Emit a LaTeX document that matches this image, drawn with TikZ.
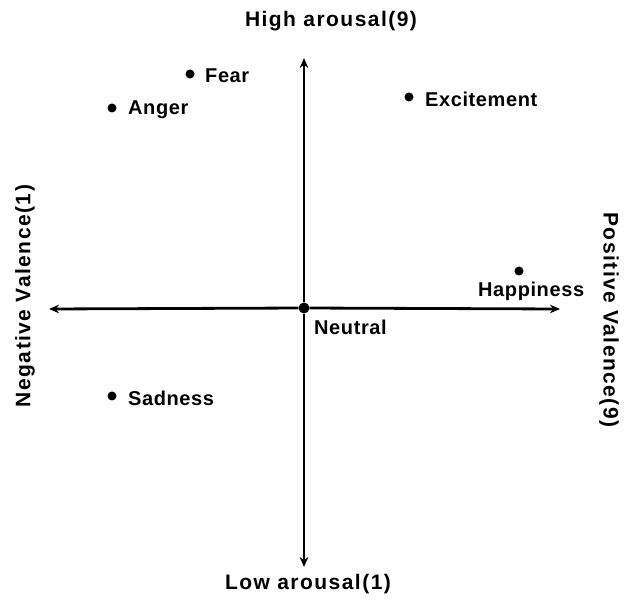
\documentclass[tikz,border=0pt]{standalone}
\usepackage{fontspec}
\setmainfont{Liberation Sans}
\usetikzlibrary{arrows.meta}
\begin{document}
\begin{tikzpicture}[x=1pt,y=-1pt,
  axis/.style={line width=2.8pt,-{Stealth[length=10pt,width=8.5pt]}},
  dot/.style={circle,fill=black,inner sep=0pt,minimum size=9pt},
  lab/.style={font=\bfseries\fontsize{20}{24}\selectfont\addfontfeatures{LetterSpace=3},inner sep=0pt},
  axlab/.style={font=\bfseries\fontsize{21}{25}\selectfont\addfontfeatures{LetterSpace=7},inner sep=0pt}]
\useasboundingbox (0,0) rectangle (624,601);
\coordinate (top) at (304,58);
\coordinate (bot) at (304,567);
\coordinate (left) at (49,309);
\coordinate (right) at (560,309);
\node[dot,minimum size=11pt] (o) at (304,308) {};
\draw[axis] (o) -- (top);
\draw[axis] (o) -- (bot);
\draw[axis] (o) -- (left);
\draw[axis] (o) -- (right);
\node[axlab] (hi) at (331,21) {High arousal(9)};
\node[axlab] (lo) at (308,584) {Low arousal(1)};
\node[axlab,rotate=90] (neg) at (25,296) {Negative Valence(1)};
\node[axlab,rotate=-90] (pos) at (609,320) {Positive Valence(9)};
\node[dot] (fear) at (190,74) {};
\node[lab,anchor=west] (fearl) at (205,76) {Fear};
\node[dot] (anger) at (112,108) {};
\node[lab,anchor=west] (angerl) at (128,110) {Anger};
\node[dot] (exc) at (409,97) {};
\node[lab,anchor=west] (excl) at (425,99) {Excitement};
\node[dot] (hap) at (519,271) {};
\node[lab,anchor=west] (hapl) at (478,291) {Happiness};
\node[lab,anchor=west] (neul) at (314,327) {Neutral};
\node[dot] (sad) at (112,396) {};
\node[lab,anchor=west] (sadl) at (128,398) {Sadness};
\end{tikzpicture}
\end{document}
